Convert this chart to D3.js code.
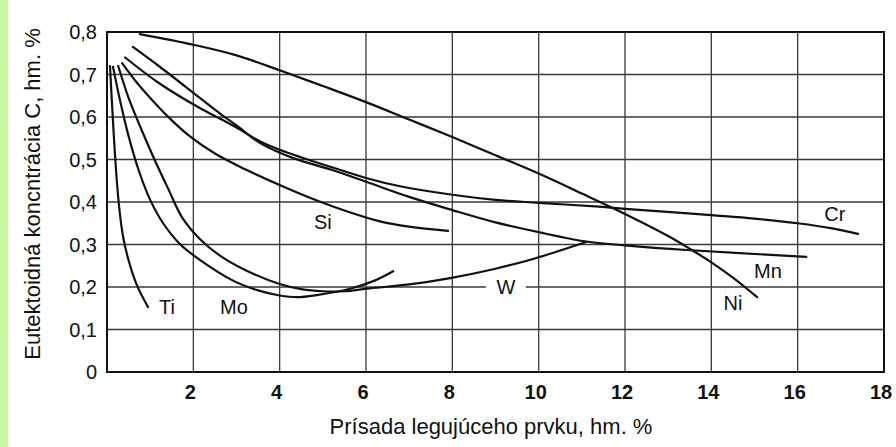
<!DOCTYPE html>
<html>
<head>
<meta charset="utf-8">
<script src="https://cdn.jsdelivr.net/npm/d3@7"></script>
<style>
  html, body { margin: 0; padding: 0; background: #ffffff; }
  svg { display: block; }
  text { font-family: "Liberation Sans", Arial, sans-serif; fill: #111; }
</style>
</head>
<body>
<svg id="chart" width="896" height="447"></svg>
<script>
// ---- data (x: alloying element wt. %, y: eutectoid carbon wt. %) ----
const xTickValues = [2, 4, 6, 8, 10, 12, 14, 16, 18];
const xTickLabels = ["2", "4", "6", "8", "10", "12", "14", "16", "18"];
const yTickValues = [0, 0.1, 0.2, 0.3, 0.4, 0.5, 0.6, 0.7, 0.8];
const yTickLabels = ["0", "0,1", "0,2", "0,3", "0,4", "0,5", "0,6", "0,7", "0,8"];

const seriesNames = ["Ti", "Mo", "W", "Si", "Cr", "Mn", "Ni"];

const ti = [[0.07,0.72],[0.1,0.66],[0.15,0.57],[0.22,0.46],[0.29,0.38],[0.37,0.32],[0.48,0.27],[0.69,0.205],[0.95,0.153]];
const mo = [[0.14,0.718],[0.3,0.64],[0.5,0.555],[0.75,0.47],[1.0,0.405],[1.3,0.35],[1.7,0.3],[2.15,0.264],[2.92,0.215],[3.5,0.192],[4.0,0.18],[4.4,0.176],[4.86,0.181],[5.63,0.196],[6.2,0.215],[6.63,0.237]];
const w  = [[0.26,0.72],[0.5,0.645],[0.8,0.57],[1.1,0.5],[1.4,0.435],[1.75,0.362],[2.15,0.313],[2.6,0.275],[3.2,0.24],[4.0,0.207],[4.5,0.195],[5.0,0.19],[5.5,0.19],[6.02,0.196],[7.0,0.206],[7.95,0.221],[9.0,0.243],[9.87,0.266],[11.1,0.306]];
const si = [[0.35,0.727],[0.7,0.68],[1.0,0.645],[1.4,0.602],[1.9,0.556],[2.5,0.514],[3.2,0.477],[4.0,0.44],[4.7,0.41],[5.5,0.38],[6.3,0.355],[7.0,0.342],[7.9,0.332]];
const cr = [[0.42,0.74],[1.2,0.68],[2.15,0.621],[2.62,0.596],[3.0,0.575],[3.54,0.543],[4.0,0.523],[4.47,0.506],[5.17,0.483],[6.02,0.456],[6.79,0.437],[8.0,0.417],[9.0,0.405],[10.0,0.398],[11.4,0.389],[12.0,0.384],[14.0,0.369],[15.0,0.361],[16.0,0.35],[16.8,0.338],[17.4,0.325]];
const mn = [[0.6,0.765],[1.2,0.72],[2.15,0.645],[2.62,0.608],[3.0,0.58],[3.54,0.539],[4.0,0.516],[4.47,0.498],[5.2,0.476],[6.02,0.447],[7.0,0.412],[8.0,0.381],[9.0,0.352],[10.0,0.329],[11.1,0.307],[12.0,0.298],[13.43,0.287],[16.2,0.271]];
const ni = [[0.76,0.795],[2.0,0.77],[3.0,0.745],[4.0,0.71],[5.0,0.673],[6.0,0.635],[7.0,0.594],[8.0,0.553],[9.0,0.51],[10.0,0.467],[11.0,0.42],[12.0,0.372],[13.0,0.32],[13.5,0.29],[14.0,0.258],[14.5,0.222],[15.06,0.176]];

const seriesData = [ti, mo, w, si, cr, mn, ni];

// curve label anchors (data coordinates)
const labelX = [1.39, 2.94, 9.24, 5.0, 16.86, 15.31, 14.5];
const labelY = [0.153, 0.153, 0.2, 0.353, 0.372, 0.238, 0.162];

const xTitle = "Prísada legujúceho prvku, hm. %";
const yTitle = "Eutektoidná koncntrácia C, hm. %";

// ---- layout ----
const svg = d3.select("#chart");
const x = d3.scaleLinear().domain([0, 18]).range([107, 884]);
const y = d3.scaleLinear().domain([0, 0.8]).range([372, 32]);

svg.append("rect").attr("x", 0).attr("y", 0).attr("width", 896).attr("height", 447).attr("fill", "#fff");
svg.append("rect").attr("x", 0).attr("y", 0).attr("width", 8).attr("height", 447).attr("fill", "#c8f7a2");

// grid
const grid = svg.append("g").attr("stroke", "#3a3a3a").attr("stroke-width", 1.3);
xTickValues.filter(v => v < 18).forEach(v => {
  grid.append("line").attr("x1", x(v)).attr("x2", x(v)).attr("y1", y(0)).attr("y2", y(0.8));
});
yTickValues.filter(v => v > 0 && v < 0.8).forEach(v => {
  grid.append("line").attr("x1", x(0)).attr("x2", x(18)).attr("y1", y(v)).attr("y2", y(v));
});

// W label background gap on grid line
const wi = seriesNames.indexOf("W");
svg.append("rect")
  .attr("x", x(labelX[wi]) - 20).attr("y", y(labelY[wi]) - 10)
  .attr("width", 40).attr("height", 20).attr("fill", "#fff");

// frame
svg.append("rect").attr("x", x(0)).attr("y", y(0.8))
  .attr("width", x(18) - x(0)).attr("height", y(0) - y(0.8))
  .attr("fill", "none").attr("stroke", "#111").attr("stroke-width", 2);

// curves
const line = d3.line().x(d => x(d[0])).y(d => y(d[1])).curve(d3.curveCatmullRom.alpha(0.5));
seriesData.forEach((s, i) => {
  svg.append("path").attr("d", line(s)).attr("fill", "none")
    .attr("stroke", "#111").attr("stroke-width", 2.2).attr("stroke-linecap", "round");
});

// curve labels
seriesNames.forEach((n, i) => {
  svg.append("text").attr("x", x(labelX[i])).attr("y", y(labelY[i]) + 7)
    .attr("text-anchor", "middle").attr("font-size", 20).text(n);
});

// x ticks
xTickValues.forEach((v, i) => {
  svg.append("text").attr("x", x(v) - 3).attr("y", 399)
    .attr("text-anchor", "middle").attr("font-size", 20).attr("font-weight", "bold")
    .text(xTickLabels[i]);
});
// y ticks
yTickValues.forEach((v, i) => {
  svg.append("text").attr("x", 97).attr("y", y(v) + 7)
    .attr("text-anchor", "end").attr("font-size", 20)
    .text(yTickLabels[i]);
});

// titles
svg.append("text").attr("x", 491).attr("y", 434).attr("text-anchor", "middle")
  .attr("font-size", 22).text(xTitle);
svg.append("text").attr("transform", "translate(40,194) rotate(-90)")
  .attr("text-anchor", "middle").attr("font-size", 22).text(yTitle);
</script>
</body>
</html>
